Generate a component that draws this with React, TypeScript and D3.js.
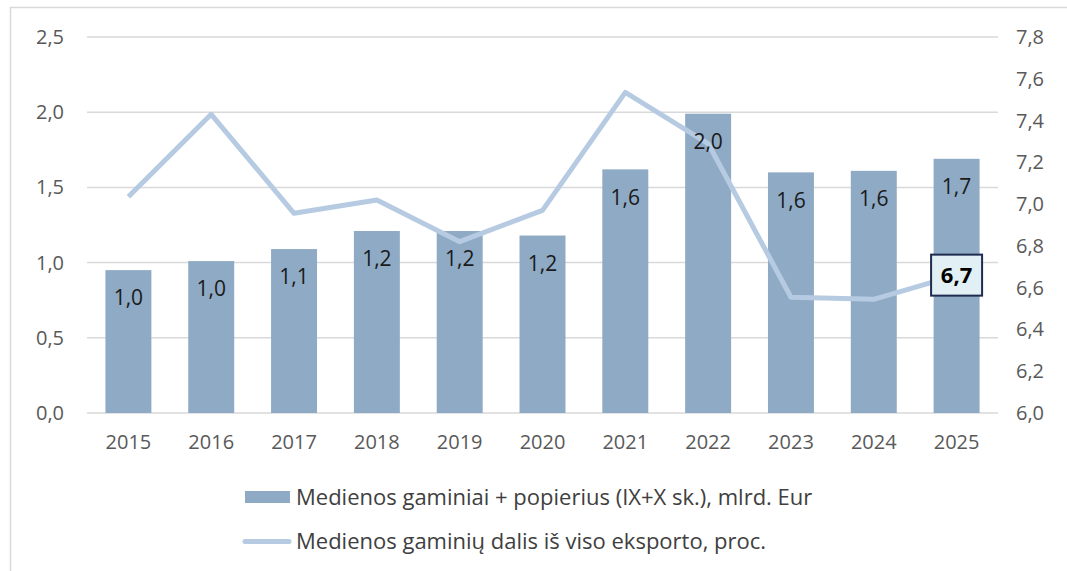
import React from "react";
import * as d3 from "d3";

const years = ["2015", "2016", "2017", "2018", "2019", "2020", "2021", "2022", "2023", "2024", "2025"];
const barValues = [0.95, 1.01, 1.09, 1.21, 1.21, 1.18, 1.62, 1.99, 1.6, 1.61, 1.69];
const barLabels = ["1,0", "1,0", "1,1", "1,2", "1,2", "1,2", "1,6", "2,0", "1,6", "1,6", "1,7"];
const lineValues = [7.035, 7.43, 6.956, 7.02, 6.82, 6.97, 7.535, 7.29, 6.554, 6.544, 6.66];
const leftTicks = [0, 0.5, 1.0, 1.5, 2.0, 2.5];
const rightTicks = [6.0, 6.2, 6.4, 6.6, 6.8, 7.0, 7.2, 7.4, 7.6, 7.8];
const legendBar = "Medienos gaminiai + popierius (IX+X sk.), mlrd. Eur";
const legendLine = "Medienos gaminių dalis iš viso eksporto, proc.";
const lastLabel = "6,7";

const W = 1067;
const H = 571;
const FONT = "'Open Sans', 'Noto Sans', sans-serif";
const BAR_COLOR = "#8eaac5";
const LINE_COLOR = "#b6cbe2";
const GRID = "#d9d9d9";
const TICK_COLOR = "#595959";

const fmt = (v: number) => v.toFixed(1).replace(".", ",");

export default function App() {
  const x = d3.scaleBand<string>().domain(years).range([87, 998]).paddingInner(0.445).paddingOuter(0.2225);
  const yL = d3.scaleLinear().domain([0, 2.5]).range([413, 37]);
  const yR = d3.scaleLinear().domain([6.0, 7.8]).range([413, 37]);
  const cx = (d: string) => (x(d) as number) + x.bandwidth() / 2;

  const line = d3
    .line<number>()
    .x((_, i) => cx(years[i]))
    .y((v) => yR(v));

  const lastX = cx(years[years.length - 1]);
  const lastY = yR(lineValues[lineValues.length - 1]);

  return (
    <svg width={W} height={H} style={{ position: "absolute", left: 0, top: 0, background: "#fff" }} fontFamily={FONT}>
      <rect x={10.5} y={7.5} width={1200} height={700} fill="#fff" stroke={GRID} strokeWidth={1.5} />
      {leftTicks.map((t) => (
        <line key={"g" + t} x1={87} x2={998} y1={yL(t)} y2={yL(t)} stroke={GRID} strokeWidth={1.5} />
      ))}
      {leftTicks.map((t) => (
        <text key={"l" + t} x={64} y={yL(t)} dy="0.35em" textAnchor="end" fontSize={20} fill={TICK_COLOR}>
          {fmt(t)}
        </text>
      ))}
      {rightTicks.map((t) => (
        <text key={"r" + t} x={1016} y={yR(t)} dy="0.35em" textAnchor="start" fontSize={20} fill={TICK_COLOR}>
          {fmt(t)}
        </text>
      ))}
      {years.map((yr, i) => (
        <rect key={"b" + yr} x={x(yr)} y={yL(barValues[i])} width={x.bandwidth()} height={yL(0) - yL(barValues[i])} fill={BAR_COLOR} />
      ))}
      {years.map((yr) => (
        <text key={"x" + yr} x={cx(yr)} y={442} dy="0.35em" textAnchor="middle" fontSize={20} fill={TICK_COLOR}>
          {yr}
        </text>
      ))}
      <path d={line(lineValues) || ""} fill="none" stroke={LINE_COLOR} strokeWidth={5} strokeLinejoin="round" />
      {years.map((yr, i) => (
        <text key={"v" + yr} x={cx(yr)} y={yL(barValues[i]) + 28} dy="0.35em" textAnchor="middle" fontSize={21} fill="#1a1a1a">
          {barLabels[i]}
        </text>
      ))}
      <rect x={lastX - 25.5} y={lastY - 20.5} width={51} height={41} fill="#e2eff4" stroke="#1f2b4f" strokeWidth={2} />
      <text x={lastX} y={lastY} dy="0.35em" textAnchor="middle" fontSize={22} fontWeight="bold" fill="#000">
        {lastLabel}
      </text>
      <rect x={245} y={491} width={45} height={12} fill={BAR_COLOR} />
      <text x={296} y={497} dy="0.35em" fontSize={22} fill="#404040">
        {legendBar}
      </text>
      <line x1={245} x2={289} y1={541.5} y2={541.5} stroke={LINE_COLOR} strokeWidth={5} strokeLinecap="round" />
      <text x={296} y={541} dy="0.35em" fontSize={22} fill="#404040">
        {legendLine}
      </text>
    </svg>
  );
}
